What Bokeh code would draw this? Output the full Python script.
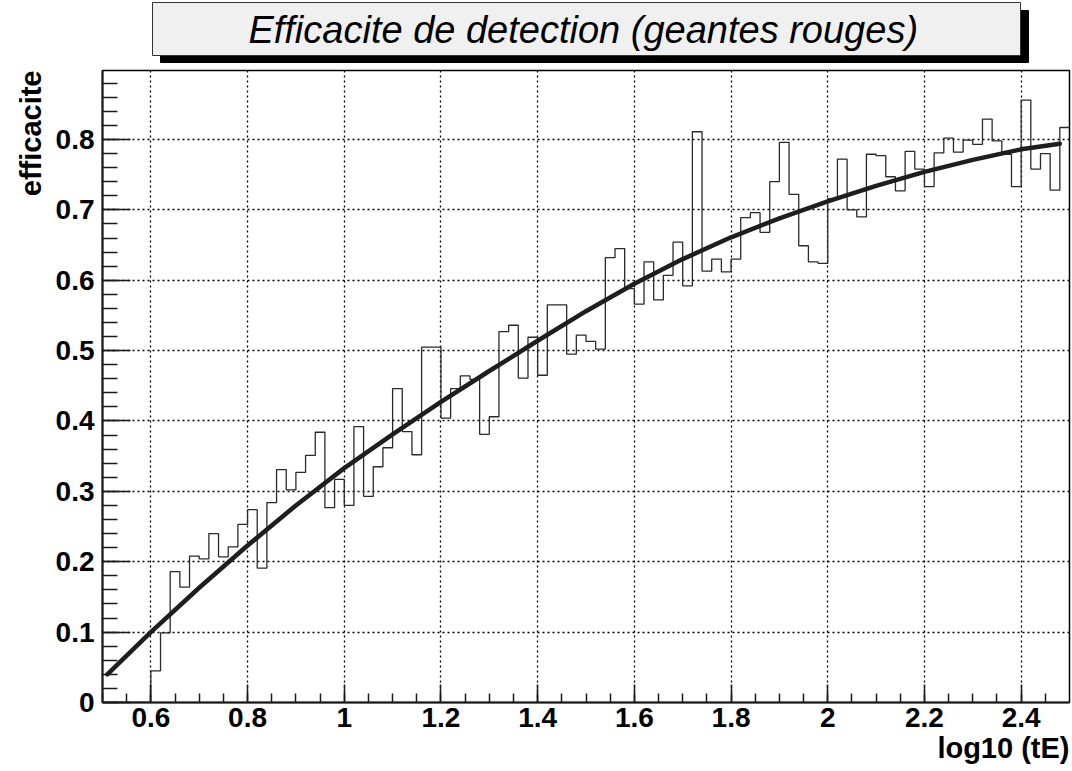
from bokeh.plotting import figure
from bokeh.layouts import column
from bokeh.models import Range1d, SingleIntervalTicker, CustomJSTickFormatter, Title
from bokeh.embed import file_html
from bokeh.resources import INLINE
from bokeh.core.properties import value

# ---------------- data ----------------
title_text = "Efficacite de detection  (geantes rouges)"
y_title = "efficacite"
x_title = "log10 (tE)"

x_min, x_max = 0.5, 2.5
y_min, y_max = 0.0, 0.898
first_bin = 0.60
bin_width = 0.02

# efficiency per bin (bins 0.60-0.62 ... 2.48-2.50), bins 0.50-0.60 empty
efficacite = [
    0.045, 0.099, 0.186, 0.164, 0.208, 0.204, 0.240, 0.207, 0.221, 0.253,
    0.274, 0.191, 0.284, 0.331, 0.302, 0.327, 0.351, 0.384, 0.277, 0.317,
    0.280, 0.392, 0.293, 0.335, 0.362, 0.446, 0.385, 0.352, 0.505, 0.505,
    0.404, 0.446, 0.464, 0.459, 0.381, 0.406, 0.527, 0.536, 0.461, 0.519,
    0.465, 0.565, 0.565, 0.495, 0.522, 0.513, 0.502, 0.632, 0.645, 0.588,
    0.566, 0.626, 0.572, 0.607, 0.654, 0.592, 0.811, 0.613, 0.630, 0.612,
    0.630, 0.689, 0.696, 0.668, 0.740, 0.796, 0.722, 0.649, 0.626, 0.624,
    0.716, 0.772, 0.700, 0.690, 0.779, 0.777, 0.747, 0.727, 0.783, 0.758,
    0.733, 0.781, 0.802, 0.782, 0.799, 0.793, 0.829, 0.798, 0.779, 0.733,
    0.856, 0.758, 0.780, 0.728, 0.817,
]

# fitted curve
fit_x = [0.51, 0.60, 0.70, 0.80, 0.90, 1.00, 1.10, 1.20, 1.30, 1.40, 1.50,
         1.60, 1.70, 1.80, 1.90, 2.00, 2.10, 2.20, 2.30, 2.40, 2.48]
fit_y = [0.040, 0.100, 0.163, 0.223, 0.280, 0.333, 0.381, 0.427, 0.471, 0.514, 0.556,
         0.595, 0.630, 0.661, 0.688, 0.712, 0.734, 0.754, 0.771, 0.786, 0.794]

# ---------------- layout ----------------
W = 1071
TITLE_H = 64
MAIN_H = 770 - TITLE_H
BL, BR = 102, 2          # frame borders shared by both panels
FONT = "Liberation Sans"

# title panel: ranges in page pixels
pt = figure(width=W, height=TITLE_H, x_range=Range1d(BL, W - BR), y_range=Range1d(TITLE_H, 0),
            x_axis_type=None, y_axis_type=None, toolbar_location=None,
            output_backend="svg", min_border_left=BL, min_border_right=BR,
            min_border_top=0, min_border_bottom=0, outline_line_color=None)
pt.grid.visible = False
pt.quad(left=[160], right=[1028], top=[10], bottom=[62], fill_color="black", line_color="black")
pt.quad(left=[152], right=[1020], top=[2], bottom=[55], fill_color="#f0f0f0",
        line_color="#333333", line_width=1)
pt.text(x=[588], y=[29], text=[title_text], text_font=value(FONT), text_font_style="italic",
        text_font_size="38px", text_align="center", text_baseline="middle", text_color="black")

# main plot
p = figure(width=W, height=MAIN_H, x_range=Range1d(x_min, x_max), y_range=Range1d(y_min, y_max),
           toolbar_location=None, output_backend="svg",
           min_border_left=BL, min_border_right=BR, min_border_top=6, min_border_bottom=68)
p.outline_line_color = "black"
p.outline_line_width = 1.5

p.xaxis.ticker = SingleIntervalTicker(interval=0.2, num_minor_ticks=4)
p.yaxis.ticker = SingleIntervalTicker(interval=0.1, num_minor_ticks=5)
fmt = "return (Math.round(tick*10)/10).toString();"
p.xaxis.formatter = CustomJSTickFormatter(code=fmt)
p.yaxis.formatter = CustomJSTickFormatter(code=fmt)

for ax in (p.xaxis, p.yaxis):
    ax.axis_line_width = 2
    ax.axis_line_color = "#1a1a1a"
    ax.major_tick_line_color = "#1a1a1a"
    ax.minor_tick_line_color = "#1a1a1a"
    ax.major_tick_line_width = 1.5
    ax.minor_tick_line_width = 1.5
    ax.major_tick_out = 0
    ax.minor_tick_out = 0
    ax.major_label_text_font = FONT
    ax.major_label_text_font_style = "bold"
    ax.major_label_text_font_size = "28px"
    ax.major_label_text_color = "black"

p.xaxis.major_tick_in = 18
p.xaxis.minor_tick_in = 9
p.yaxis.major_tick_in = 28
p.yaxis.minor_tick_in = 15
p.xaxis.major_label_standoff = 5
p.yaxis.major_label_standoff = 8

for g in (p.xgrid, p.ygrid):
    g.grid_line_color = "black"
    g.grid_line_dash = "2 3"
    g.grid_line_width = 1.3

# histogram (step outline)
edges = [round(first_bin + bin_width * i, 2) for i in range(len(efficacite) + 1)]
hx = [x_min] + edges
hy = [0.0] + efficacite + [efficacite[-1]]
p.step(x=hx, y=hy, mode="after", line_color="#2a2a2a", line_width=1.3)

# fit curve
p.line(x=fit_x, y=fit_y, line_color="#1e1e1e", line_width=4.5, line_cap="round",
       line_join="round")

# axis titles
p.add_layout(Title(text=y_title, align="right", text_font=FONT, text_font_style="bold",
                   text_font_size="29px", text_color="black", standoff=12), "left")
p.add_layout(Title(text=x_title, align="right", text_font=FONT, text_font_style="bold",
                   text_font_size="29px", text_color="black", standoff=0), "below")

layout = column(pt, p, spacing=0)
open("out.html", "w").write(file_html(layout, INLINE))
